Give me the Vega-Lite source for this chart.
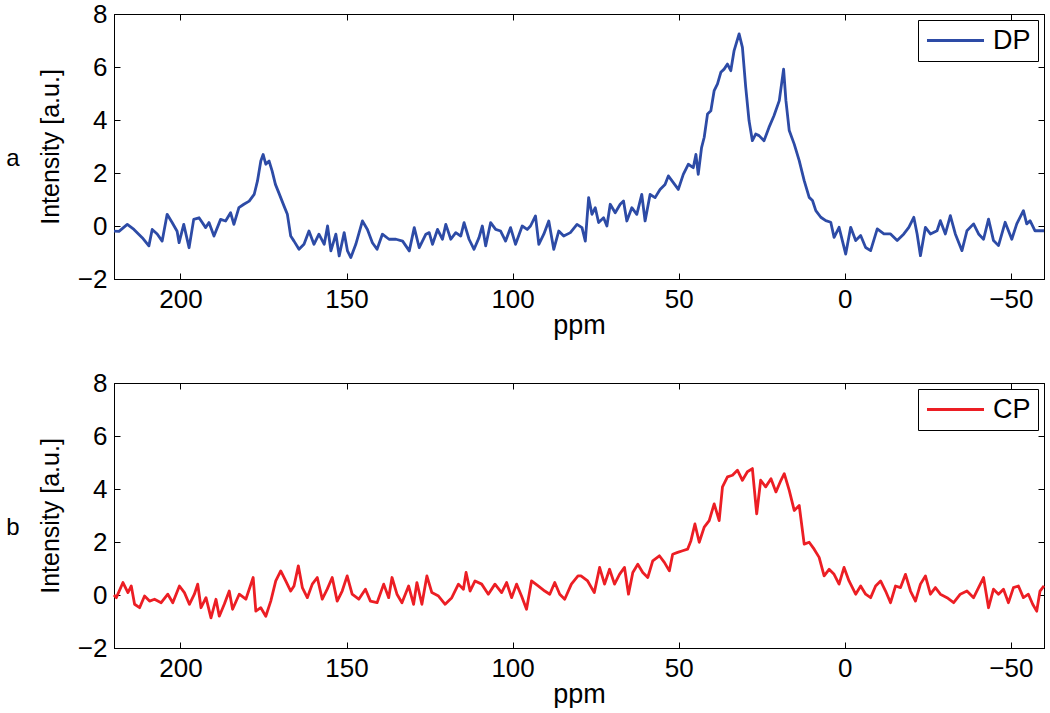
{
  "$schema": "https://vega.github.io/schema/vega-lite/v6.json",
  "background": "white",
  "padding": {"left": 5, "top": 0, "right": 0, "bottom": 0},
  "config": {
    "font": "Liberation Sans",
    "view": {"stroke": "black", "strokeWidth": 1},
    "axis": {
      "domainColor": "black", "domainWidth": 1, "tickColor": "black", "tickWidth": 1,
      "labelColor": "black", "titleColor": "black",
      "labelFont": "Liberation Sans", "titleFont": "Liberation Sans",
      "labelFontSize": 26, "titleFontSize": 27, "titleFontWeight": "normal",
      "grid": false, "tickSize": -6, "labelPadding": 13
    },
    "legend": {
      "orient": "top-right", "offset": 6, "strokeColor": "black", "fillColor": "white",
      "padding": 7, "symbolType": "M-2.5,0L2.5,0", "symbolSize": 520, "symbolStrokeWidth": 2.8,
      "symbolOffset": 17, "labelOffset": 24,
      "labelFontSize": 27, "labelColor": "black", "labelFont": "Liberation Sans"
    },
    "title": {"fontSize": 24, "fontWeight": "normal", "color": "black", "font": "Liberation Sans"}
  },
  "datasets": {
    "dp": [
      {"ppm":220,"v":-0.19},{"ppm":218.5,"v":-0.2},{"ppm":216,"v":0.06},{"ppm":214,"v":-0.13},{"ppm":211.5,"v":-0.44},{"ppm":209.5,"v":-0.75},{"ppm":208.5,"v":-0.13},{"ppm":207,"v":-0.3},{"ppm":205.5,"v":-0.57},{"ppm":204,"v":0.44},{"ppm":202.5,"v":0.13},{"ppm":201,"v":-0.2},{"ppm":200.4,"v":-0.63},{"ppm":199,"v":0.06},{"ppm":197.4,"v":-0.82},{"ppm":196,"v":0.25},{"ppm":194.4,"v":0.31},{"ppm":192.4,"v":-0.06},{"ppm":191.4,"v":0.13},{"ppm":189.9,"v":-0.38},{"ppm":187.9,"v":0.25},{"ppm":186.4,"v":0.19},{"ppm":184.9,"v":0.5},{"ppm":183.9,"v":0.06},{"ppm":182.4,"v":0.69},{"ppm":180.9,"v":0.82},{"ppm":179.3,"v":0.94},{"ppm":177.8,"v":1.19},{"ppm":176.8,"v":1.7},{"ppm":175.8,"v":2.45},{"ppm":175.1,"v":2.7},{"ppm":174.3,"v":2.33},{"ppm":173.3,"v":2.45},{"ppm":172.4,"v":2.08},{"ppm":171.4,"v":1.57},{"ppm":170.4,"v":1.26},{"ppm":168.8,"v":0.75},{"ppm":167.8,"v":0.44},{"ppm":166.8,"v":-0.38},{"ppm":165.8,"v":-0.57},{"ppm":164.3,"v":-0.88},{"ppm":162.8,"v":-0.69},{"ppm":161.3,"v":-0.19},{"ppm":159.8,"v":-0.69},{"ppm":158.3,"v":-0.31},{"ppm":156.7,"v":-0.69},{"ppm":155.7,"v":0},{"ppm":154.7,"v":-0.94},{"ppm":153.2,"v":-0.31},{"ppm":152.2,"v":-1.13},{"ppm":150.7,"v":-0.25},{"ppm":149.7,"v":-0.94},{"ppm":148.7,"v":-1.19},{"ppm":147.2,"v":-0.69},{"ppm":145.2,"v":0.19},{"ppm":143.7,"v":-0.13},{"ppm":142.2,"v":-0.63},{"ppm":140.8,"v":-0.88},{"ppm":139.2,"v":-0.31},{"ppm":137.2,"v":-0.5},{"ppm":135.1,"v":-0.5},{"ppm":133.1,"v":-0.57},{"ppm":131.1,"v":-0.94},{"ppm":129.6,"v":-0.06},{"ppm":128.1,"v":-0.82},{"ppm":126.1,"v":-0.31},{"ppm":125.1,"v":-0.25},{"ppm":124.1,"v":-0.69},{"ppm":122.6,"v":-0.13},{"ppm":121.1,"v":-0.5},{"ppm":120.1,"v":0.06},{"ppm":118.6,"v":-0.5},{"ppm":117.1,"v":-0.25},{"ppm":115.6,"v":-0.38},{"ppm":114.6,"v":0.13},{"ppm":113.1,"v":-0.5},{"ppm":111.6,"v":-0.88},{"ppm":110.1,"v":-0.44},{"ppm":109.1,"v":0},{"ppm":108.1,"v":-0.75},{"ppm":106.6,"v":0.13},{"ppm":105.1,"v":-0.13},{"ppm":103.6,"v":-0.19},{"ppm":102.1,"v":-0.57},{"ppm":100.6,"v":-0.06},{"ppm":99.1,"v":-0.69},{"ppm":97.1,"v":0},{"ppm":95.6,"v":-0.13},{"ppm":94.6,"v":0},{"ppm":93.1,"v":0.38},{"ppm":92.1,"v":-0.69},{"ppm":90.6,"v":-0.31},{"ppm":89.1,"v":0.19},{"ppm":87.6,"v":-0.88},{"ppm":86.1,"v":-0.19},{"ppm":84.6,"v":-0.38},{"ppm":82.6,"v":-0.25},{"ppm":80.6,"v":0.06},{"ppm":79.1,"v":-0.06},{"ppm":78.1,"v":-0.57},{"ppm":77.1,"v":1.07},{"ppm":76.1,"v":0.44},{"ppm":75.1,"v":0.69},{"ppm":74.1,"v":0.13},{"ppm":72.6,"v":0.31},{"ppm":71.6,"v":0},{"ppm":70.6,"v":0.82},{"ppm":69.1,"v":0.5},{"ppm":67.6,"v":0.82},{"ppm":66.6,"v":0.94},{"ppm":65.6,"v":0.19},{"ppm":64.1,"v":0.69},{"ppm":62.6,"v":0.44},{"ppm":61.1,"v":1.19},{"ppm":60.1,"v":0.19},{"ppm":58.6,"v":1.19},{"ppm":57.1,"v":1.07},{"ppm":55.6,"v":1.38},{"ppm":54.1,"v":1.57},{"ppm":53.1,"v":1.89},{"ppm":51.6,"v":1.64},{"ppm":50.1,"v":1.38},{"ppm":48.6,"v":1.95},{"ppm":47.1,"v":2.33},{"ppm":45.6,"v":2.2},{"ppm":44.8,"v":2.7},{"ppm":44.1,"v":1.95},{"ppm":43.1,"v":2.96},{"ppm":42.3,"v":3.35},{"ppm":41.3,"v":4.23},{"ppm":40.3,"v":4.35},{"ppm":39.3,"v":5.11},{"ppm":38.3,"v":5.36},{"ppm":37.3,"v":5.8},{"ppm":36.3,"v":5.92},{"ppm":35.3,"v":6.11},{"ppm":34.3,"v":5.86},{"ppm":33.3,"v":6.62},{"ppm":31.8,"v":7.25},{"ppm":30.8,"v":6.74},{"ppm":29.8,"v":5.23},{"ppm":28.8,"v":3.97},{"ppm":27.8,"v":3.22},{"ppm":26.8,"v":3.47},{"ppm":25.8,"v":3.41},{"ppm":24.3,"v":3.22},{"ppm":22.8,"v":3.72},{"ppm":21.3,"v":4.16},{"ppm":19.7,"v":4.73},{"ppm":18.4,"v":5.92},{"ppm":17.7,"v":4.73},{"ppm":16.7,"v":3.6},{"ppm":15.2,"v":3.09},{"ppm":13.7,"v":2.47},{"ppm":12.2,"v":1.71},{"ppm":10.7,"v":1.08},{"ppm":9.7,"v":0.96},{"ppm":8.7,"v":0.58},{"ppm":7.2,"v":0.33},{"ppm":5.7,"v":0.2},{"ppm":4.2,"v":0.14},{"ppm":3.2,"v":-0.43},{"ppm":1.7,"v":-0.05},{"ppm":-0.3,"v":-1.06},{"ppm":-1.8,"v":-0.05},{"ppm":-3.3,"v":-0.55},{"ppm":-4.8,"v":-0.36},{"ppm":-6.3,"v":-0.81},{"ppm":-7.8,"v":-0.93},{"ppm":-9.8,"v":-0.11},{"ppm":-11.8,"v":-0.3},{"ppm":-13.8,"v":-0.3},{"ppm":-15.8,"v":-0.55},{"ppm":-17.8,"v":-0.3},{"ppm":-19.3,"v":-0.05},{"ppm":-20.8,"v":0.33},{"ppm":-21.8,"v":-0.3},{"ppm":-22.8,"v":-1.12},{"ppm":-24.3,"v":-0.05},{"ppm":-25.8,"v":-0.3},{"ppm":-27.8,"v":-0.18},{"ppm":-28.8,"v":0.2},{"ppm":-30.3,"v":-0.3},{"ppm":-31.8,"v":0.39},{"ppm":-33.3,"v":-0.3},{"ppm":-35.3,"v":-0.93},{"ppm":-36.8,"v":-0.18},{"ppm":-38.8,"v":0.08},{"ppm":-40.3,"v":-0.3},{"ppm":-41.8,"v":-0.5},{"ppm":-43.3,"v":0.26},{"ppm":-44.8,"v":-0.55},{"ppm":-46.3,"v":-0.74},{"ppm":-48.3,"v":0.14},{"ppm":-50.3,"v":-0.5},{"ppm":-51.8,"v":0.08},{"ppm":-53.8,"v":0.58},{"ppm":-54.8,"v":0.08},{"ppm":-55.8,"v":0.2},{"ppm":-57.3,"v":-0.18},{"ppm":-60,"v":-0.18}
    ],
    "cp": [
      {"ppm":220,"v":0.0},{"ppm":219.3,"v":-0.1},{"ppm":217.3,"v":0.47},{"ppm":215.8,"v":0.09},{"ppm":214.8,"v":0.34},{"ppm":213.8,"v":-0.35},{"ppm":212.3,"v":-0.48},{"ppm":210.8,"v":-0.04},{"ppm":209.3,"v":-0.23},{"ppm":207.8,"v":-0.16},{"ppm":205.8,"v":-0.29},{"ppm":203.8,"v":0.03},{"ppm":202.3,"v":-0.29},{"ppm":200.3,"v":0.34},{"ppm":198.8,"v":0.09},{"ppm":197.3,"v":-0.35},{"ppm":195.8,"v":0.03},{"ppm":194.8,"v":0.41},{"ppm":193.8,"v":-0.48},{"ppm":192.3,"v":-0.1},{"ppm":190.8,"v":-0.86},{"ppm":189.3,"v":-0.16},{"ppm":188.3,"v":-0.8},{"ppm":186.8,"v":-0.35},{"ppm":185.3,"v":0.15},{"ppm":184.3,"v":-0.54},{"ppm":182.3,"v":0.03},{"ppm":180.3,"v":-0.16},{"ppm":178.1,"v":0.66},{"ppm":177.3,"v":-0.61},{"ppm":175.8,"v":-0.48},{"ppm":174.3,"v":-0.8},{"ppm":172.8,"v":-0.23},{"ppm":171.3,"v":0.53},{"ppm":169.8,"v":0.91},{"ppm":168.3,"v":0.53},{"ppm":166.8,"v":0.15},{"ppm":165.8,"v":0.34},{"ppm":164.5,"v":1.1},{"ppm":163.3,"v":0.28},{"ppm":161.8,"v":-0.1},{"ppm":160.3,"v":0.41},{"ppm":158.8,"v":0.66},{"ppm":157.3,"v":-0.16},{"ppm":155.8,"v":0.22},{"ppm":154.3,"v":0.66},{"ppm":152.8,"v":-0.23},{"ppm":151.3,"v":0.15},{"ppm":149.8,"v":0.72},{"ppm":148.3,"v":0.03},{"ppm":146.3,"v":-0.16},{"ppm":144.3,"v":0.22},{"ppm":142.8,"v":-0.23},{"ppm":140.8,"v":-0.29},{"ppm":138.8,"v":0.41},{"ppm":137.3,"v":-0.1},{"ppm":136.3,"v":0.66},{"ppm":134.8,"v":0.03},{"ppm":133.3,"v":-0.29},{"ppm":131.3,"v":0.34},{"ppm":129.8,"v":-0.35},{"ppm":128.8,"v":0.47},{"ppm":127.3,"v":-0.35},{"ppm":125.8,"v":0.72},{"ppm":124.3,"v":0.09},{"ppm":122.3,"v":-0.04},{"ppm":120.3,"v":-0.35},{"ppm":118.3,"v":-0.1},{"ppm":116.3,"v":0.41},{"ppm":114.8,"v":0.22},{"ppm":114,"v":0.85},{"ppm":112.8,"v":0.15},{"ppm":111.3,"v":0.53},{"ppm":109.3,"v":0.41},{"ppm":107.3,"v":0.03},{"ppm":105.3,"v":0.41},{"ppm":103.3,"v":0.09},{"ppm":101.8,"v":0.47},{"ppm":100.3,"v":-0.1},{"ppm":98.8,"v":0.41},{"ppm":97.3,"v":-0.04},{"ppm":95.8,"v":-0.54},{"ppm":94.3,"v":0.53},{"ppm":92.3,"v":0.34},{"ppm":90.3,"v":0.15},{"ppm":88.8,"v":0.03},{"ppm":87.3,"v":0.47},{"ppm":85.8,"v":0.03},{"ppm":84.3,"v":-0.16},{"ppm":82.3,"v":0.41},{"ppm":80.3,"v":0.72},{"ppm":79.4,"v":0.72},{"ppm":77.4,"v":0.53},{"ppm":75.4,"v":0.09},{"ppm":73.8,"v":1.04},{"ppm":72.3,"v":0.41},{"ppm":70.8,"v":0.97},{"ppm":69.3,"v":0.41},{"ppm":67.8,"v":0.78},{"ppm":66.3,"v":1.04},{"ppm":65.1,"v":0.03},{"ppm":63.8,"v":0.85},{"ppm":62.3,"v":1.16},{"ppm":60.8,"v":0.85},{"ppm":59.3,"v":0.66},{"ppm":57.8,"v":1.29},{"ppm":55.8,"v":1.48},{"ppm":54.3,"v":1.23},{"ppm":52.8,"v":0.91},{"ppm":51.8,"v":1.54},{"ppm":50.3,"v":1.61},{"ppm":48.8,"v":1.67},{"ppm":47.3,"v":1.73},{"ppm":46.3,"v":2.05},{"ppm":45.1,"v":2.68},{"ppm":43.8,"v":1.99},{"ppm":42.3,"v":2.56},{"ppm":40.8,"v":2.81},{"ppm":39.3,"v":3.44},{"ppm":37.8,"v":2.81},{"ppm":36.8,"v":4.08},{"ppm":35.3,"v":4.46},{"ppm":33.8,"v":4.52},{"ppm":32.3,"v":4.71},{"ppm":30.8,"v":4.33},{"ppm":29.3,"v":4.65},{"ppm":27.8,"v":4.77},{"ppm":26.5,"v":3.06},{"ppm":25.3,"v":4.33},{"ppm":23.8,"v":4.08},{"ppm":22.2,"v":4.39},{"ppm":20.7,"v":3.89},{"ppm":19.2,"v":4.33},{"ppm":18.2,"v":4.58},{"ppm":16.7,"v":3.95},{"ppm":15.2,"v":3.19},{"ppm":13.7,"v":3.38},{"ppm":12.2,"v":1.92},{"ppm":10.7,"v":1.99},{"ppm":9.2,"v":1.73},{"ppm":7.7,"v":1.42},{"ppm":6.2,"v":0.72},{"ppm":4.7,"v":0.97},{"ppm":3.2,"v":0.78},{"ppm":1.7,"v":0.41},{"ppm":0.2,"v":1.04},{"ppm":-1.3,"v":0.53},{"ppm":-3.3,"v":0.03},{"ppm":-4.8,"v":0.34},{"ppm":-6.3,"v":0.03},{"ppm":-7.8,"v":-0.1},{"ppm":-9.3,"v":0.34},{"ppm":-10.8,"v":0.53},{"ppm":-12.3,"v":0.15},{"ppm":-13.8,"v":-0.29},{"ppm":-15.3,"v":0.34},{"ppm":-16.8,"v":0.28},{"ppm":-18.3,"v":0.78},{"ppm":-19.8,"v":0.15},{"ppm":-21.3,"v":-0.23},{"ppm":-22.8,"v":0.41},{"ppm":-24.3,"v":0.72},{"ppm":-25.8,"v":0.03},{"ppm":-27.3,"v":0.28},{"ppm":-28.8,"v":0.03},{"ppm":-30.8,"v":-0.1},{"ppm":-32.8,"v":-0.29},{"ppm":-34.8,"v":0.03},{"ppm":-36.8,"v":0.15},{"ppm":-38.8,"v":-0.1},{"ppm":-40.3,"v":0.28},{"ppm":-41.8,"v":0.66},{"ppm":-43.3,"v":-0.48},{"ppm":-44.8,"v":0.22},{"ppm":-46.3,"v":0.03},{"ppm":-47.8,"v":0.22},{"ppm":-49.3,"v":-0.29},{"ppm":-50.8,"v":0.28},{"ppm":-52.3,"v":0.34},{"ppm":-53.8,"v":-0.1},{"ppm":-55.3,"v":0.03},{"ppm":-56.6,"v":-0.35},{"ppm":-57.8,"v":-0.61},{"ppm":-58.8,"v":0.15},{"ppm":-60,"v":0.34}
    ]
  },
  "spacing": 30,
  "resolve": {"scale": {"color": "independent"}, "legend": {"color": "independent"}},
  "vconcat": [
    {
      "width": 930, "height": 265,
      "title": {"text": "a", "orient": "left", "anchor": "middle", "angle": 0, "offset": 12},
      "data": {"name": "dp"},
      "resolve": {"axis": {"x": "independent", "y": "independent"}},
      "layer": [
        {
          "mark": {"type": "line", "strokeWidth": 2.8, "opacity": 0},
          "encoding": {
            "x": {"field": "ppm", "type": "quantitative", "scale": {"domain": [-60, 220], "reverse": true, "nice": false, "zero": false},
                  "axis": {"orient": "top", "labels": false, "title": null, "values": [200, 150, 100, 50, 0, -50]}},
            "y": {"field": "v", "type": "quantitative", "scale": {"domain": [-2, 8], "nice": false, "zero": false},
                  "axis": {"orient": "right", "labels": false, "title": null, "values": [-2, 0, 2, 4, 6, 8]}}
          }
        },
        {
          "mark": {"type": "line", "strokeWidth": 2.8, "strokeJoin": "round"},
          "encoding": {
            "x": {"field": "ppm", "type": "quantitative", "scale": {"domain": [-60, 220], "reverse": true, "nice": false, "zero": false},
                  "axis": {"orient": "bottom", "title": "ppm", "titlePadding": 0, "values": [200, 150, 100, 50, 0, -50]}},
            "y": {"field": "v", "type": "quantitative", "scale": {"domain": [-2, 8], "nice": false, "zero": false},
                  "axis": {"orient": "left", "title": "Intensity [a.u.]", "titleFontSize": 25, "titlePadding": 14, "values": [-2, 0, 2, 4, 6, 8]}},
            "color": {"datum": "DP", "type": "nominal", "scale": {"domain": ["DP"], "range": ["#2d4ba6"]}, "legend": {"title": null}}
          }
        }
      ]
    },
    {
      "width": 930, "height": 265,
      "title": {"text": "b", "orient": "left", "anchor": "middle", "angle": 0, "offset": 12},
      "data": {"name": "cp"},
      "resolve": {"axis": {"x": "independent", "y": "independent"}},
      "layer": [
        {
          "mark": {"type": "line", "strokeWidth": 2.8, "opacity": 0},
          "encoding": {
            "x": {"field": "ppm", "type": "quantitative", "scale": {"domain": [-60, 220], "reverse": true, "nice": false, "zero": false},
                  "axis": {"orient": "top", "labels": false, "title": null, "values": [200, 150, 100, 50, 0, -50]}},
            "y": {"field": "v", "type": "quantitative", "scale": {"domain": [-2, 8], "nice": false, "zero": false},
                  "axis": {"orient": "right", "labels": false, "title": null, "values": [-2, 0, 2, 4, 6, 8]}}
          }
        },
        {
          "mark": {"type": "line", "strokeWidth": 2.8, "strokeJoin": "round"},
          "encoding": {
            "x": {"field": "ppm", "type": "quantitative", "scale": {"domain": [-60, 220], "reverse": true, "nice": false, "zero": false},
                  "axis": {"orient": "bottom", "title": "ppm", "titlePadding": 0, "values": [200, 150, 100, 50, 0, -50]}},
            "y": {"field": "v", "type": "quantitative", "scale": {"domain": [-2, 8], "nice": false, "zero": false},
                  "axis": {"orient": "left", "title": "Intensity [a.u.]", "titleFontSize": 25, "titlePadding": 14, "values": [-2, 0, 2, 4, 6, 8]}},
            "color": {"datum": "CP", "type": "nominal", "scale": {"domain": ["CP"], "range": ["#ec1e24"]}, "legend": {"title": null}}
          }
        }
      ]
    }
  ]
}
